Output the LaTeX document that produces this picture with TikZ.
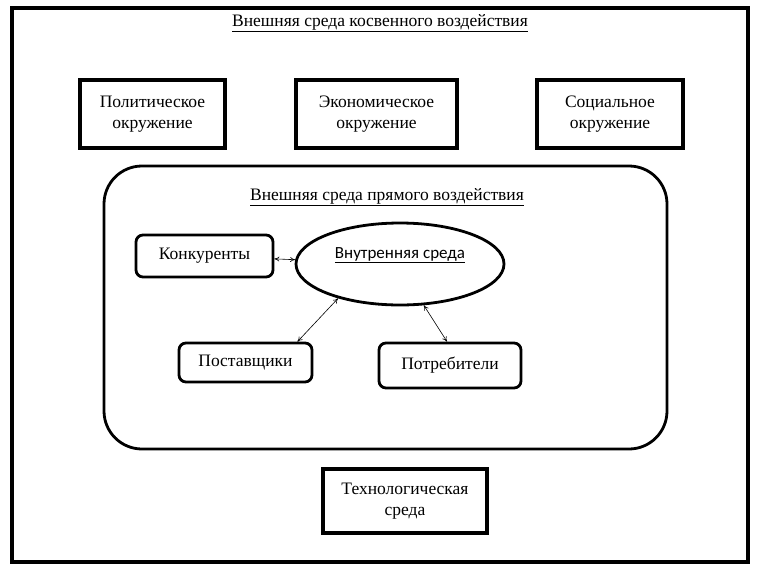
\documentclass[tikz,border=0pt]{standalone}
\usepackage{fontspec}
\setmainfont{Liberation Serif}
\newfontfamily\calfont{Carlito}
\usetikzlibrary{arrows.meta,shapes.geometric}
\newcommand{\px}{1pt}

\begin{document}
\begin{tikzpicture}[x=\px,y=-\px]
\useasboundingbox (0,0) rectangle (768,576);
\tikzstyle{every node}=[font=\fontsize{17.5}{21}\selectfont,
                        align=center,
                        inner sep=0pt
                        ]
\tikzstyle{sqbox}=[draw, line width=3.2pt]
\tikzstyle{rbox}=[draw, line width=2.8pt, rounded corners=7pt]
\tikzstyle{link}=[<->, >={To[length=5pt,width=5pt]}, line width=0.6pt]
\draw[line width=3.2pt] (12,8) rectangle (748,562);
\node (titleA) at (380,23) {\underline{Внешняя среда косвенного воздействия}};
\node[sqbox, minimum width=145pt, minimum height=68pt] (polit)  at (152.5,114) {Политическое\\окружение};
\node[sqbox, minimum width=161pt, minimum height=68pt] (econ)   at (376.5,114) {Экономическое\\окружение};
\node[sqbox, minimum width=146pt, minimum height=68pt] (social) at (610,114)   {Социальное\\окружение};
\node[draw, line width=2.8pt, rounded corners=38pt, minimum width=563pt, minimum height=283pt] (direct) at (385.5,307.5) {};
\node (titleB) at (387,197) {\underline{Внешняя среда прямого воздействия}};
\node[rbox, minimum width=137pt, minimum height=42pt] (konk) at (204.5,256) {Конкуренты};
\node[draw, ellipse, line width=2.8pt, minimum width=208pt, minimum height=82pt] (inner) at (400,264) {};
\node[font=\calfont\fontsize{17}{20}\selectfont] (innerlbl) at (400,255) {\underline{Внутренняя среда}};
\node[rbox, minimum width=133pt, minimum height=39pt] (post) at (245.5,362.5) {Поставщики};
\node[rbox, minimum width=142pt, minimum height=45pt] (potr) at (450,365.5) {Потребители};
\node[sqbox, minimum width=164pt, minimum height=64pt] (tech) at (405,501) {Технологическая\\среда};
\draw[link] (konk) -- (inner);
\draw[link] ([xshift=52pt]post.north) -- (inner.209);
\draw[link] ([xshift=-3pt]potr.north) -- (inner.300);
\end{tikzpicture}
\end{document}
